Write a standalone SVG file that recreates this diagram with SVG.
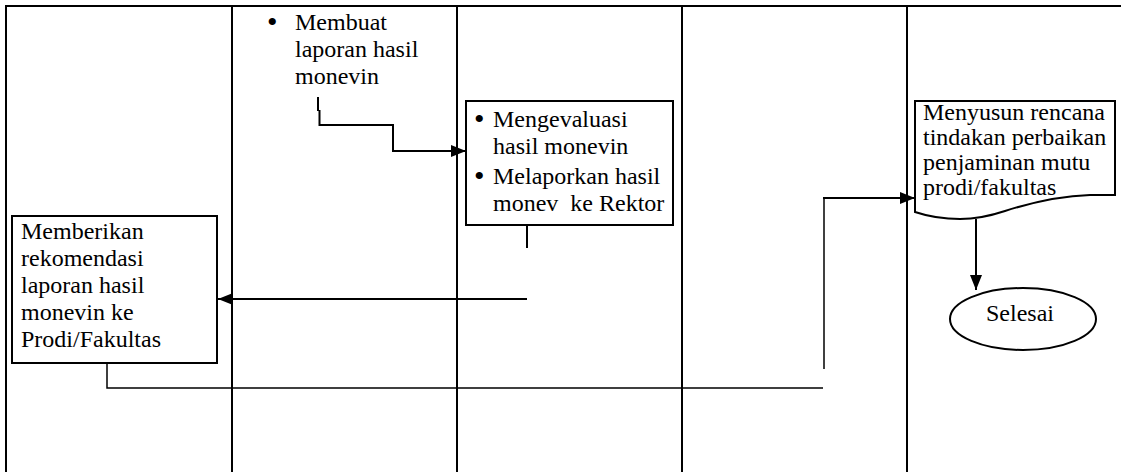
<svg xmlns="http://www.w3.org/2000/svg" width="1126" height="472" viewBox="0 0 1126 472">
<style>
  .frame { stroke: #000; stroke-width: 2; fill: none; }
  .box { stroke: #000; stroke-width: 2; fill: #fff; }
  .con { stroke: #000; stroke-width: 2; fill: none; }
  .thin { stroke: #000; stroke-width: 1.5; fill: none; }
  .t { font-family: 'Liberation Serif', 'Times New Roman', serif; font-size: 24px; fill: #000; }
  .b { font-size: 30px; }
</style>
<defs>
  <marker id="arr" markerUnits="userSpaceOnUse" markerWidth="16" markerHeight="13" refX="15" refY="6" orient="auto">
    <path d="M0,0 L15,6 L0,12 Z" fill="#000"/>
  </marker>
</defs>
<rect width="1126" height="472" fill="#fff"/>
<g id="lanes">
  <path class="frame" d="M6,472 V6 H1121"/>
  <path class="frame" d="M232,6 V472 M457,6 V472 M682,6 V472 M907,6 V472"/>
</g>
<g id="connectors">
  <path class="con" d="M318,97 V111 M319.5,110 V125 H393 V151 H466" marker-end="url(#arr)"/>
  <path class="con" d="M527,225 V248"/>
  <path class="con" d="M527,299 H218" marker-end="url(#arr)"/>
  <path class="thin" d="M107,363 V388 H823"/>
  <path class="thin" d="M824,369 V198"/>
  <path class="con" d="M823,198 H915" marker-end="url(#arr)"/>
  <path class="con" d="M976,219 V290" marker-end="url(#arr)"/>
</g>
<g id="node-membuat" class="t">
  <text class="b" x="267" y="32">•</text>
  <text x="295" y="30">Membuat</text>
  <text x="295" y="57">laporan hasil</text>
  <text x="295" y="84">monevin</text>
</g>
<g id="node-evaluasi">
  <rect class="box" x="466" y="101" width="207" height="124"/>
  <g class="t">
    <text class="b" x="474" y="129">•</text>
    <text x="493" y="127">Mengevaluasi</text>
    <text x="493" y="154">hasil monevin</text>
    <text class="b" x="474" y="186">•</text>
    <text x="493" y="184">Melaporkan hasil</text>
    <text x="493" y="211" xml:space="preserve">monev  ke Rektor</text>
  </g>
</g>
<g id="node-rekomendasi">
  <rect class="box" x="12" y="216" width="205" height="147"/>
  <g class="t">
    <text x="21" y="239">Memberikan</text>
    <text x="21" y="266">rekomendasi</text>
    <text x="21" y="293">laporan hasil</text>
    <text x="21" y="320">monevin ke</text>
    <text x="21" y="347">Prodi/Fakultas</text>
  </g>
</g>
<g id="node-rencana">
  <path class="box" d="M915,101 H1115 V195 H1090 C1058,196 1030,203 1005,211 C990,216 975,219 960,219 C945,219 930,217 915,212 Z"/>
  <g class="t">
    <text x="923" y="120">Menyusun rencana</text>
    <text x="923" y="145">tindakan perbaikan</text>
    <text x="923" y="170">penjaminan mutu</text>
    <text x="923" y="195">prodi/fakultas</text>
  </g>
</g>
<g id="node-selesai">
  <ellipse class="box" cx="1023" cy="319" rx="73" ry="31"/>
  <text class="t" x="1020" y="321" text-anchor="middle">Selesai</text>
</g>
</svg>
